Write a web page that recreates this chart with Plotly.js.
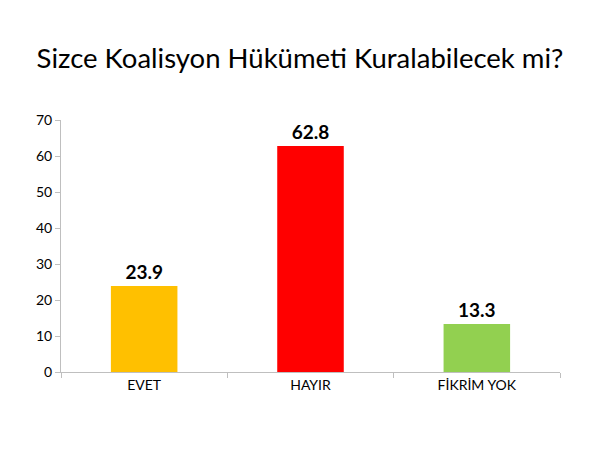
<!DOCTYPE html>
<html><head><meta charset="utf-8">
<script src="https://cdn.plot.ly/plotly-3.0.1.min.js"></script>
<style>html,body{margin:0;padding:0;background:#fff}#chart{width:600px;height:450px}</style>
</head><body><div id="chart"></div>
<script>
const categories = ["EVET", "HAYIR", "FİKRİM YOK"];
const values = [23.9, 62.8, 13.3];
const colors = ["#FFC000", "#FF0000", "#92D050"];
const yTicks = [0, 10, 20, 30, 40, 50, 60, 70];

const trace = {
  type: "bar",
  x: categories,
  y: values,
  marker: {color: colors},
  text: values.map(v => "<b>" + v.toFixed(1) + "</b>"),
  textposition: "outside",
  textfont: {family: "Lato, sans-serif", size: 19, color: "#000"},
  cliponaxis: false,
  hoverinfo: "none"
};

const layout = {
  width: 600, height: 450,
  margin: {l: 61, r: 40, t: 120, b: 78},
  paper_bgcolor: "#fff", plot_bgcolor: "#fff",
  bargap: 0.6,
  showlegend: false,
  font: {family: "Lato, sans-serif", color: "#000"},
  title: {text: "Sizce Koalisyon Hükümeti Kuralabilecek mi?", font: {family: "Lato, sans-serif", size: 27.5, color: "#000"}, x: 0.5, xanchor: "center", y: 0.87, yanchor: "middle"},
  xaxis: {
    type: "category", showline: true, linecolor: "#bfbfbf", linewidth: 1,
    ticks: "outside", tickson: "boundaries", ticklen: 5, tickcolor: "#bfbfbf",
    tickfont: {size: 14, color: "#000"}, showgrid: false, zeroline: false
  },
  yaxis: {
    range: [0, 70], tickvals: yTicks, showline: true, linecolor: "#bfbfbf", linewidth: 1,
    ticks: "outside", ticklen: 5, tickcolor: "#bfbfbf",
    tickfont: {size: 14, color: "#000"}, showgrid: false, zeroline: false
  }
};

Plotly.newPlot("chart", [trace], layout, {displayModeBar: false, staticPlot: true});
</script></body></html>
